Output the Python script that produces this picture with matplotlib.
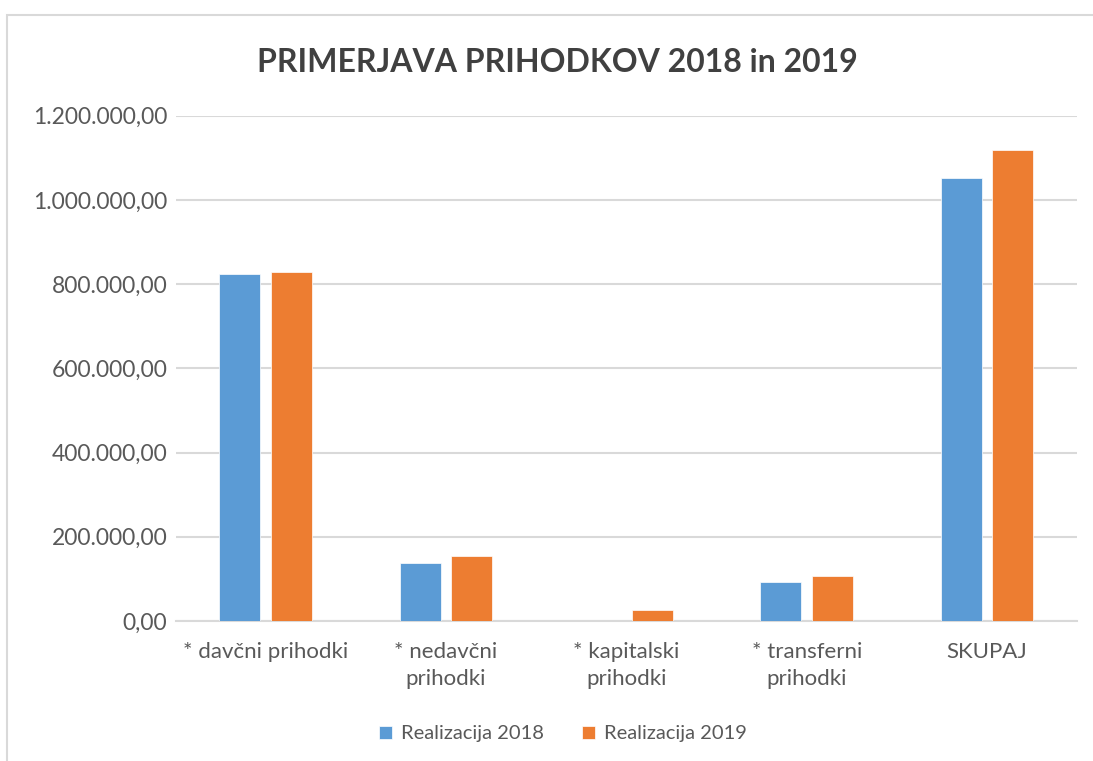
import matplotlib
matplotlib.use("Agg")
import matplotlib.pyplot as plt
from matplotlib.ticker import FuncFormatter, MultipleLocator
from matplotlib.patches import Rectangle
import numpy as np

categories = ["* davčni prihodki", "* nedavčni\nprihodki", "* kapitalski\nprihodki",
              "* transferni\nprihodki", "SKUPAJ"]
real_2018 = [824000, 138000, 0, 92000, 1052000]
real_2019 = [828000, 155000, 27000, 106000, 1119000]
series_names = ["Realizacija 2018", "Realizacija 2019"]
title = "PRIMERJAVA PRIHODKOV 2018 in 2019"

plt.rcParams['font.family'] = ['Lato', 'DejaVu Sans']

fig = plt.figure(figsize=(10.93, 7.61), dpi=100)
ax = fig.add_axes([0.1606, 0.184, 0.825, 0.664])

# outer chart border
fig.patches.append(Rectangle((7/1093, -0.05), 1.2, 1 - 15/761 + 0.05,
                             transform=fig.transFigure, fill=False,
                             edgecolor="#d9d9d9", linewidth=1.5))

x = np.arange(len(categories))
w = 0.227
off = 0.143
ax.bar(x - off, real_2018, w, color="#5B9BD5", edgecolor="white", linewidth=0.5,
       label=series_names[0], zorder=3)
ax.bar(x + off, real_2019, w, color="#ED7D31", edgecolor="white", linewidth=0.5,
       label=series_names[1], zorder=3)

ax.set_xlim(-0.5, len(categories) - 0.5)
ax.set_ylim(0, 1200000)
ax.yaxis.set_major_locator(MultipleLocator(200000))

def fmt(v, pos):
    s = f"{v:,.2f}"
    return s.replace(",", "X").replace(".", ",").replace("X", ".")
ax.yaxis.set_major_formatter(FuncFormatter(fmt))

ax.grid(axis="y", color="#d9d9d9", linewidth=1.5, zorder=0)
for s in ["top", "right", "left"]:
    ax.spines[s].set_visible(False)
ax.spines["bottom"].set_color("#d9d9d9")
ax.spines["bottom"].set_linewidth(1.5)
ax.tick_params(axis="both", length=0, colors="#595959")
ax.tick_params(axis="y", pad=6, labelsize=16.5)
ax.tick_params(axis="x", pad=15, labelsize=16)
ax.set_xticks(x)
ax.set_xticklabels(categories, linespacing=1.45)

fig.text(0.51, 0.918, title, ha="center", va="center", fontsize=23,
         fontweight="bold", color="#404040")

fig.legend(loc="center", bbox_to_anchor=(0.515, 0.0355), ncol=2, frameon=False,
           fontsize=14.5, handlelength=0.62, handleheight=0.62, columnspacing=1.9,
           handletextpad=0.45, labelcolor="#595959")

fig.savefig("out.png", dpi=100)
